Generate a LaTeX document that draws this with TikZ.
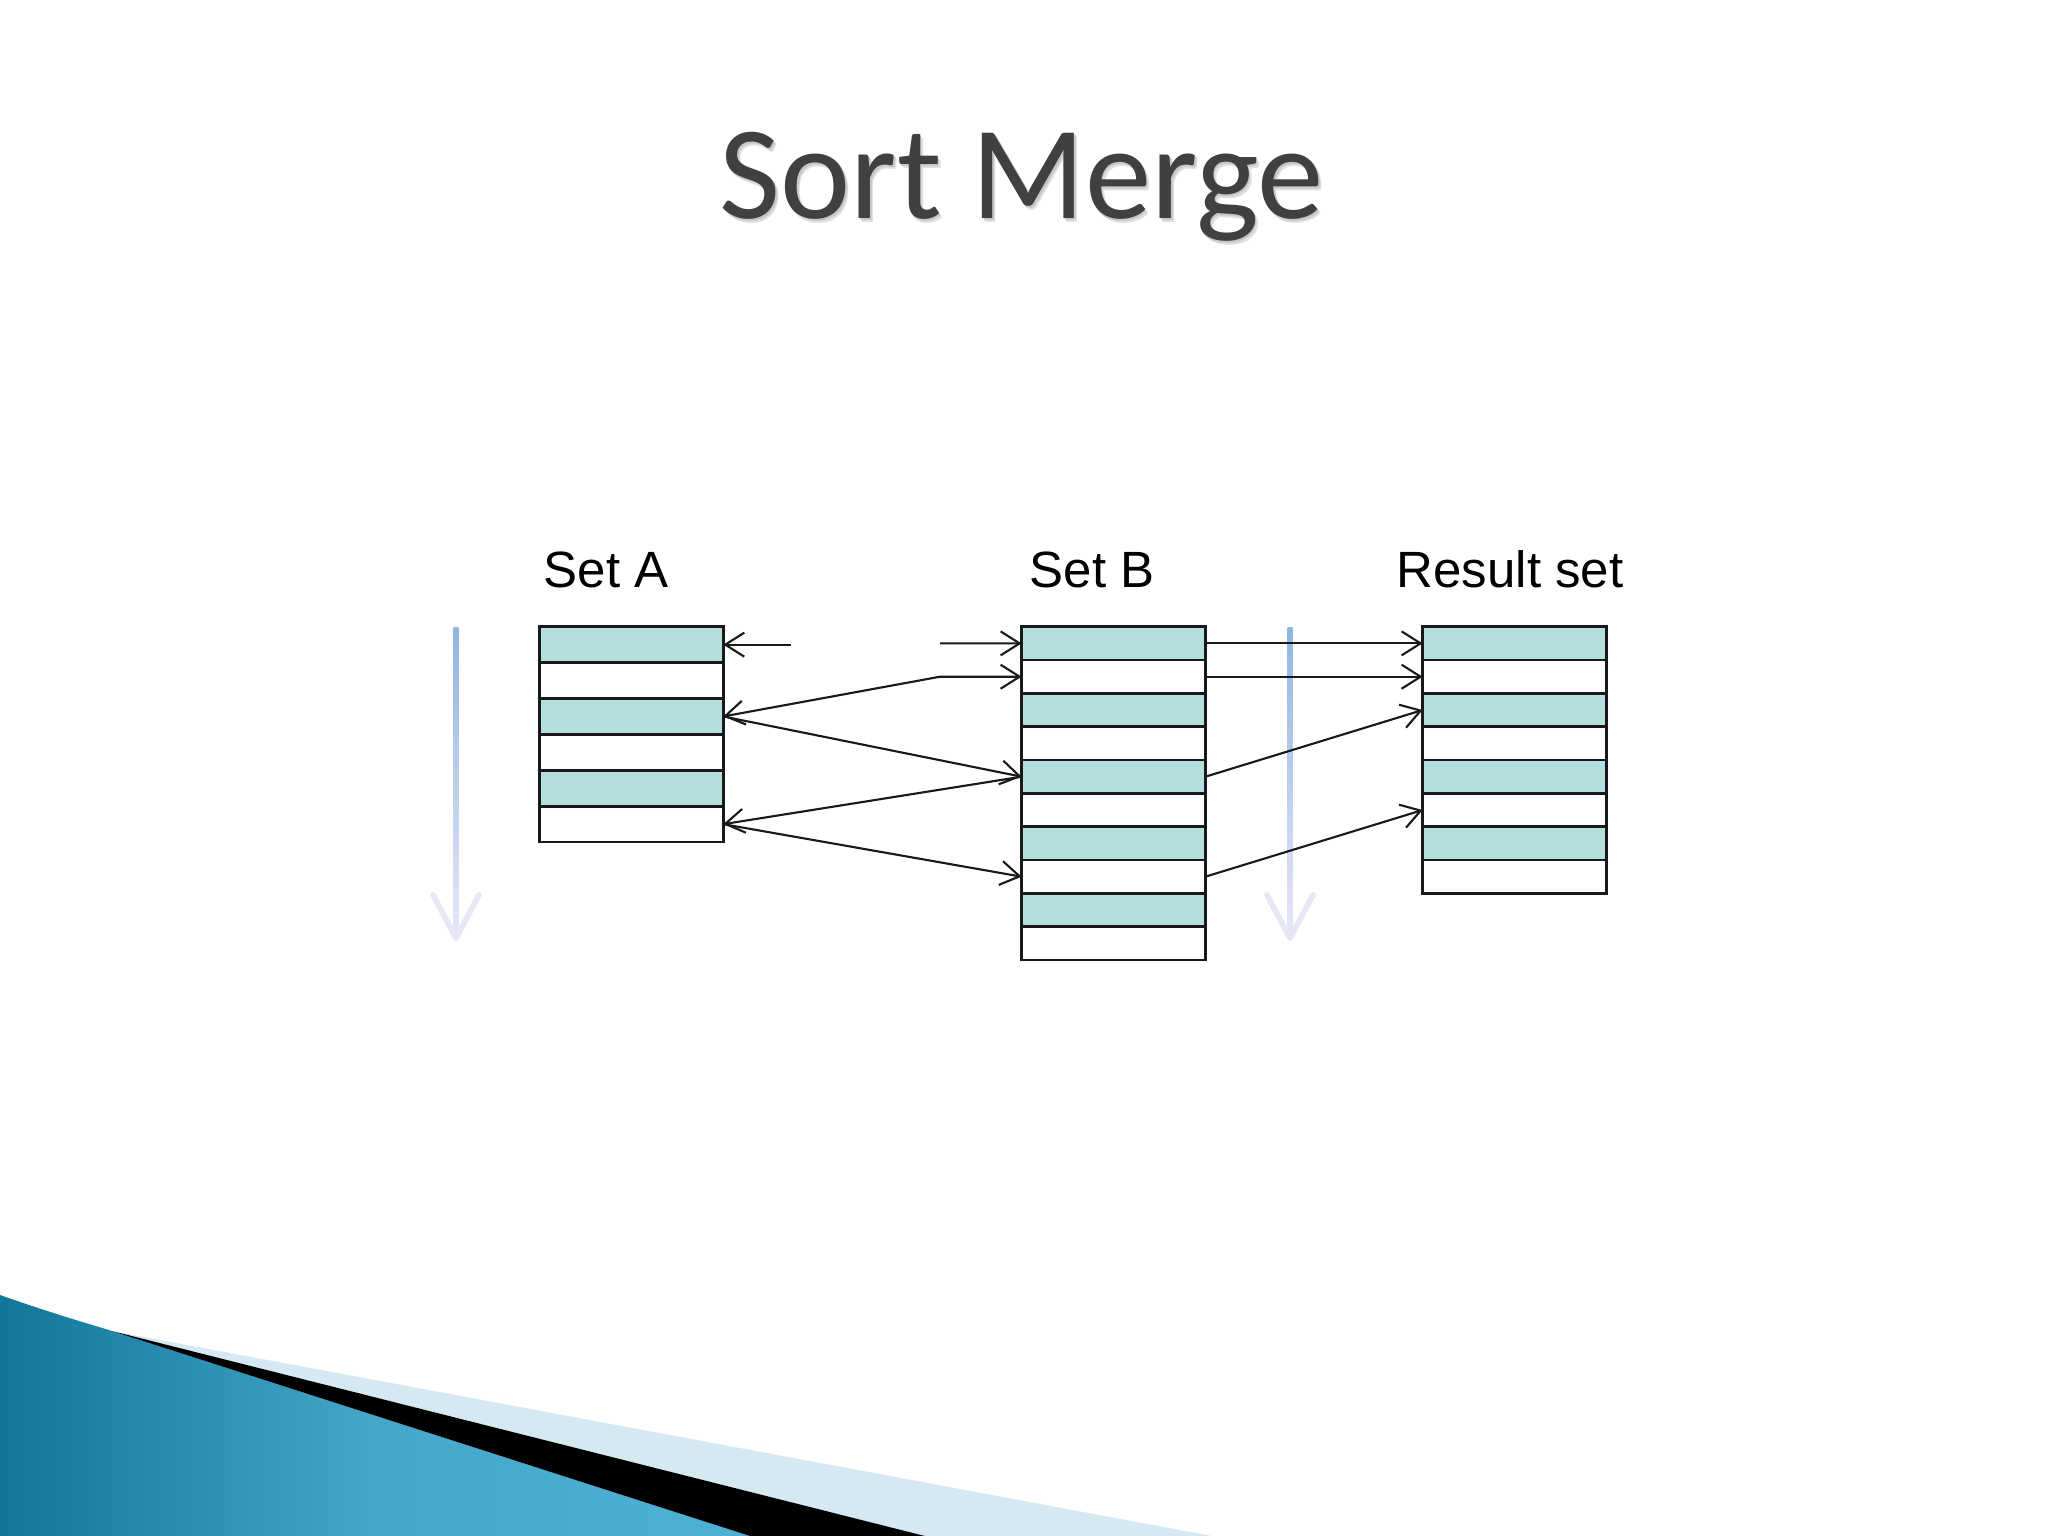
\documentclass[tikz,border=0pt]{standalone}
\usepackage{fontspec}
\setmainfont{Liberation Sans}
\newfontfamily\titlefont{Carlito}
\usetikzlibrary{arrows.meta}
\definecolor{rowteal}{RGB}{180,223,223}
\definecolor{titlegray}{RGB}{64,64,64}
\definecolor{linedark}{RGB}{25,25,25}
\definecolor{fadeblue}{RGB}{145,182,226}
\definecolor{fadelav}{RGB}{230,230,245}
\definecolor{swdark}{RGB}{16,118,154}
\definecolor{swlight}{RGB}{84,184,220}
\definecolor{swpale}{RGB}{214,232,241}
\tikzset{
  rowA/.style={draw=linedark, line width=0.75pt, minimum width=1.837cm, minimum height=0.359cm, inner sep=0pt, outer sep=0pt},
  rowB/.style={draw=linedark, line width=0.75pt, minimum width=1.837cm, minimum height=0.3333cm, inner sep=0pt, outer sep=0pt},
  filled/.style={fill=rowteal},
  plain/.style={fill=white},
  link/.style={draw=linedark, line width=0.6pt, -{Straight Barb[length=0.19cm, width=0.24cm, line width=0.6pt]}},
  setlabel/.style={anchor=base west, inner sep=0pt, font=\fontsize{14.5pt}{17pt}\selectfont},
}
\begin{document}
\begin{tikzpicture}[x=0.01cm, y=-0.01cm]
\useasboundingbox (0,0) rectangle (2048,1536);
\fill[white] (0,0) rectangle (2048,1536);

% title with soft shadow
\node[anchor=base west, inner sep=0pt, text=black!12, font=\titlefont\fontsize{37.8pt}{44pt}\selectfont] (titleshadow2) at (722,222) {Sort Merge};
\node[anchor=base west, inner sep=0pt, text=black!22, font=\titlefont\fontsize{37.8pt}{44pt}\selectfont] (titleshadow) at (720.5,220.5) {Sort Merge};
\node[anchor=base west, inner sep=0pt, text=titlegray, font=\titlefont\fontsize{37.8pt}{44pt}\selectfont] (title) at (719,218) {Sort Merge};

% bottom-left swoosh
\shade[left color=swdark, right color=swlight!90!swdark, middle color=swlight!75!swdark] (0,1295) .. controls (60,1316) and (90,1324) .. (112,1331) -- (750,1536) -- (0,1536) -- cycle;
\fill[swpale] (112,1331) -- (1212,1536) -- (925,1536) -- cycle;
\fill[black] (112,1331) -- (925,1536) -- (750,1536) -- cycle;

% faded direction arrows
\shade[top color=fadeblue, bottom color=fadelav] (453.5,627) rectangle (458.5,935);
\draw[fadelav, line width=1.6pt, line cap=round, line join=round] (433,895) -- (456,938) -- (479,895);
\shade[top color=fadeblue, bottom color=fadelav] (1287.5,627) rectangle (1292.5,935);
\draw[fadelav, line width=1.6pt, line cap=round, line join=round] (1267,895) -- (1290,938) -- (1313,895);

% labels
\node[setlabel] (labA) at (543,587) {Set A};
\node[setlabel] (labB) at (1029,587) {Set B};
\node[setlabel] (labR) at (1396,587) {Result set};

% Set A: 6 rows
\foreach \i in {1,...,6}{
  \pgfmathsetmacro{\yy}{626.7+35.9*(\i-0.5)}
  \ifodd\i \def\sty{filled}\else\def\sty{plain}\fi
  \node[rowA, \sty] (A\i) at (631.4,\yy) {};
}
% Set B: 10 rows
\foreach \i in {1,...,10}{
  \pgfmathsetmacro{\yy}{626.7+33.33*(\i-0.5)}
  \ifodd\i \def\sty{filled}\else\def\sty{plain}\fi
  \node[rowB, \sty] (B\i) at (1113.5,\yy) {};
}
% Result set: 8 rows
\foreach \i in {1,...,8}{
  \pgfmathsetmacro{\yy}{626.7+33.33*(\i-0.5)}
  \ifodd\i \def\sty{filled}\else\def\sty{plain}\fi
  \node[rowB, \sty] (R\i) at (1514.5,\yy) {};
}

% free ends
\coordinate (c1) at (791,644.65);
\coordinate (c2) at (940,643.4);
\coordinate (c3) at (940,676.7);

% connectors
\draw[link] (c1) -- (A1.east);
\draw[link] (c2) -- (B1.west);
\draw[link] (c3) -- (B2.west);
\draw[link] (c3) -- (A3.east);
\draw[link] (A3.east) -- (B5.west);
\draw[link] (B5.west) -- (A6.east);
\draw[link] (A6.east) -- (B8.west);
\draw[link] (B1.east) -- (R1.west);
\draw[link] (B2.east) -- (R2.west);
\draw[link] (B5.east) -- (R3.west);
\draw[link] (B8.east) -- (R6.west);
\end{tikzpicture}
\end{document}
